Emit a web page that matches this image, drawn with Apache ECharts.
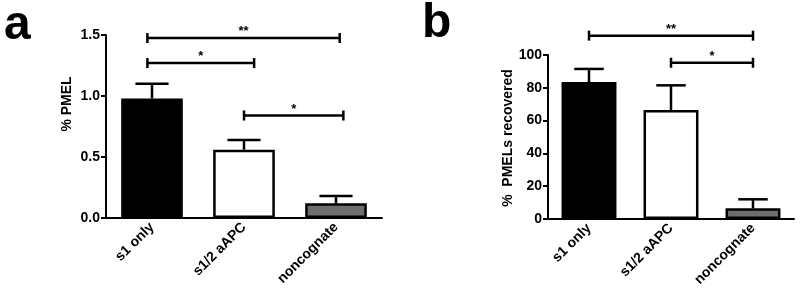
<!DOCTYPE html>
<html>
<head>
<meta charset="utf-8">
<script src="https://cdn.jsdelivr.net/npm/echarts@6/dist/echarts.min.js"></script>
<style>
  html, body { margin: 0; padding: 0; background: #fff; }
  #chart { width: 800px; height: 306px; }
</style>
</head>
<body>
<div id="chart"></div>
<script>
// categories (same for both panels)
const categories = ['s1 only', 's1/2 aAPC', 'noncognate'];
const barColors = ['#000000', '#ffffff', '#6e6e6e'];

// panel a : % PMEL
const pmelMean = [0.98, 0.56, 0.12];
const pmelErr = [0.12, 0.08, 0.06];
// brackets: [from, to, height] in category units
const pmelBrackets = [[-0.05, 2.04, 1.475], [-0.05, 1.11, 1.27], [1.0, 2.08, 0.84]];
const pmelStars = ['**', '*', '*'];

// panel b : % PMELs recovered
const recMean = [83.5, 66.5, 6.5];
const recErr = [8, 15, 5.5];
const recBrackets = [[0, 2, 111.8], [1, 2, 95.3]];
const recStars = ['**', '*'];

const FONT = "'Liberation Sans', Arial, sans-serif";

let chart = echarts.init(document.getElementById('chart'));

function xAxisOpt(gridIndex) {
  return {
    type: 'category',
    gridIndex: gridIndex,
    data: categories,
    axisLine: { lineStyle: { color: '#000', width: 2 } },
    axisTick: { alignWithLabel: true, length: 5, lineStyle: { color: '#000', width: 2 } },
    axisLabel: { rotate: 45, margin: 7, color: '#000', fontWeight: 'bold', fontSize: 14, fontFamily: FONT },
    splitLine: { show: false }
  };
}

function yAxisOpt(gridIndex, max, interval, fmt) {
  return {
    type: 'value',
    gridIndex: gridIndex,
    min: 0,
    max: max,
    interval: interval,
    axisLine: { show: true, lineStyle: { color: '#000', width: 2 } },
    axisTick: { show: true, length: 5, lineStyle: { color: '#000', width: 2 } },
    axisLabel: { margin: 6, color: '#000', fontWeight: 'bold', fontSize: 14, fontFamily: FONT, formatter: fmt },
    splitLine: { show: false }
  };
}

function barSeries(idx, values) {
  return {
    type: 'bar',
    xAxisIndex: idx,
    yAxisIndex: idx,
    barWidth: '67%',
    data: values.map((v, i) => ({
      value: v,
      itemStyle: { color: barColors[i], borderColor: '#000', borderWidth: 2.5 }
    })),
    z: 2
  };
}

function errSeries(idx, means, errs) {
  return {
    type: 'custom',
    xAxisIndex: idx,
    yAxisIndex: idx,
    data: means.map((m, i) => [i, m, errs[i]]),
    renderItem: function (params, api) {
      const p0 = api.coord([api.value(0), api.value(1)]);
      const p1 = api.coord([api.value(0), api.value(1) + api.value(2)]);
      const half = api.size([1, 0])[0] * 0.18;
      const st = { stroke: '#000', lineWidth: 2.5 };
      return {
        type: 'group',
        children: [
          { type: 'line', shape: { x1: p0[0], y1: p0[1], x2: p1[0], y2: p1[1] }, style: st },
          { type: 'line', shape: { x1: p1[0] - half, y1: p1[1], x2: p1[0] + half, y2: p1[1] }, style: st }
        ]
      };
    },
    z: 3
  };
}

function bracketSeries(idx, brackets, stars) {
  return {
    type: 'custom',
    xAxisIndex: idx,
    yAxisIndex: idx,
    clip: false,
    data: brackets,
    renderItem: function (params, api) {
      const band = api.size([1, 0])[0];
      function px(v) {
        const r = Math.round(v);
        return api.coord([r, 0])[0] + (v - r) * band;
      }
      const x1 = px(api.value(0));
      const x2 = px(api.value(1));
      const y = api.coord([0, api.value(2)])[1];
      const st = { stroke: '#000', lineWidth: 2.5 };
      return {
        type: 'group',
        children: [
          { type: 'line', shape: { x1: x1, y1: y, x2: x2, y2: y }, style: st },
          { type: 'line', shape: { x1: x1, y1: y - 5, x2: x1, y2: y + 5 }, style: st },
          { type: 'line', shape: { x1: x2, y1: y - 5, x2: x2, y2: y + 5 }, style: st },
          {
            type: 'text',
            x: (x1 + x2) / 2,
            y: y - 13,
            style: {
              text: stars[params.dataIndex],
              fill: '#000',
              font: 'bold 13px ' + FONT,
              align: 'center',
              verticalAlign: 'top'
            }
          }
        ]
      };
    },
    z: 3
  };
}

let option = {
  animation: false,
  backgroundColor: '#fff',
  grid: [
    { left: 106, width: 276, top: 35, bottom: 88 },
    { left: 548, width: 246, top: 55, bottom: 87 }
  ],
  xAxis: [xAxisOpt(0), xAxisOpt(1)],
  yAxis: [
    yAxisOpt(0, 1.5, 0.5, v => v.toFixed(1)),
    yAxisOpt(1, 100, 20, v => String(v))
  ],
  series: [
    barSeries(0, pmelMean),
    errSeries(0, pmelMean, pmelErr),
    bracketSeries(0, pmelBrackets, pmelStars),
    barSeries(1, recMean),
    errSeries(1, recMean, recErr),
    bracketSeries(1, recBrackets, recStars)
  ],
  graphic: [
    { type: 'text', left: 4, top: 2, style: { text: 'a', font: 'bold 48px ' + FONT, fill: '#000' } },
    { type: 'text', left: 422, top: 0, style: { text: 'b', font: 'bold 48px ' + FONT, fill: '#000' } },
    {
      type: 'text', x: 67, y: 104, rotation: Math.PI / 2,
      style: { text: '% PMEL', font: 'bold 14px ' + FONT, fill: '#000', align: 'center', verticalAlign: 'middle' }
    },
    {
      type: 'text', x: 508, y: 138, rotation: Math.PI / 2,
      style: { text: '%  PMELs recovered', font: 'bold 14px ' + FONT, fill: '#000', align: 'center', verticalAlign: 'middle' }
    }
  ]
};

window.onresize = chart.resize;
chart.setOption(option);
</script>
</body>
</html>
